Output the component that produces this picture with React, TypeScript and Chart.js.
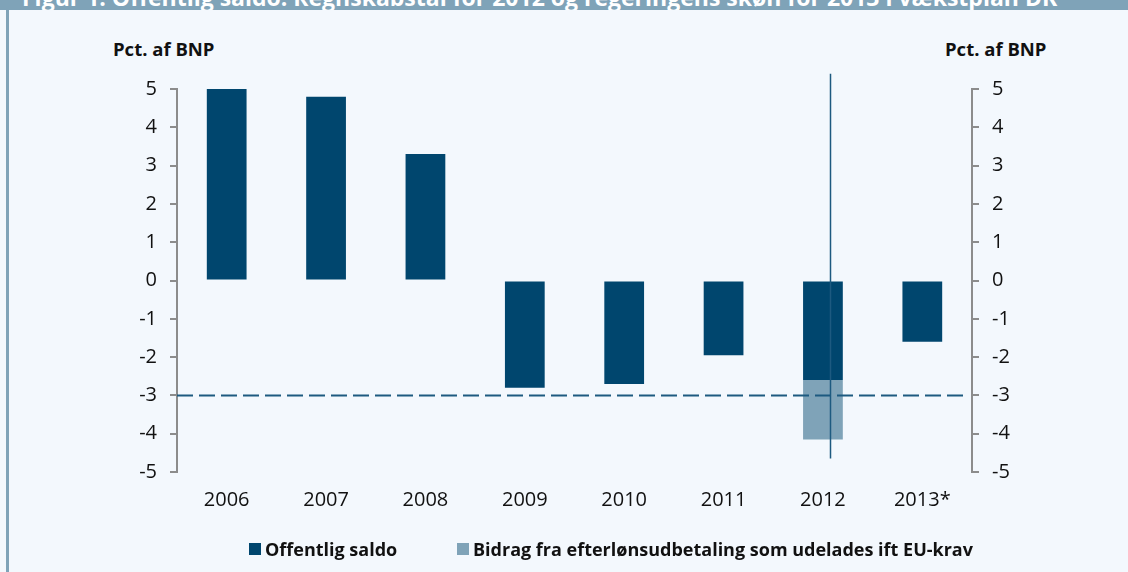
import React, { useEffect, useRef } from "react";
import { Chart, registerables } from "chart.js";
Chart.register(...registerables);

const categories = ["2006", "2007", "2008", "2009", "2010", "2011", "2012", "2013*"];
const saldo = [5.0, 4.8, 3.3, -2.8, -2.7, -1.95, -2.6, -1.6];
const bidrag = [null, null, null, null, null, null, -1.55, null];
const yMin = -5;
const yMax = 5;
const euLimit = -3;
const separatorTop = 5.4;
const separatorBottom = -4.65;

const seriesNames = ["Offentlig saldo", "Bidrag fra efterlønsudbetaling som udelades ift EU-krav"];
const colors = { dark: "#00466e", light: "#7fa3b8", line: "#1d5a80", axis: "#8c8c8c", bg: "#f3f8fd" };
const titleText = "Figur 1. Offentlig saldo: Regnskabstal for 2012 og regeringens skøn for 2013 i vækstplan DK";
const yTitle = "Pct. af BNP";
const FONT = "'Open Sans', sans-serif";

export default function App() {
  const ref = useRef<HTMLCanvasElement | null>(null);

  useEffect(() => {
    if (!ref.current) return;
    const overlay = {
      id: "overlay",
      afterDatasetsDraw(chart: any) {
        const { ctx, chartArea, scales } = chart;
        const y = scales.y;
        const x = scales.x;
        ctx.save();
        ctx.strokeStyle = colors.line;
        ctx.lineWidth = 2;
        ctx.setLineDash([16, 6]);
        const yl = Math.round(y.getPixelForValue(euLimit)) + 0.5;
        ctx.beginPath();
        ctx.moveTo(chartArea.left, yl);
        ctx.lineTo(chartArea.right - 6, yl);
        ctx.stroke();
        ctx.setLineDash([]);
        ctx.lineWidth = 1.5;
        const cw = x.getPixelForValue(1) - x.getPixelForValue(0);
        const xs = Math.round(x.getPixelForValue(6) + cw * 0.07) + 0.5;
        ctx.beginPath();
        ctx.moveTo(xs, y.getPixelForValue(separatorTop));
        ctx.lineTo(xs, y.getPixelForValue(separatorBottom));
        ctx.stroke();
        ctx.restore();
      },
    };

    const tickFont = { family: FONT, size: 20 };
    const yCommon = (position: "left" | "right") => ({
      type: "linear" as const,
      position,
      min: yMin,
      max: yMax,
      stacked: position === "left",
      afterFit(scale: any) {
        scale.width = 60;
      },
      border: { display: true, color: colors.axis, width: 2 },
      grid: {
        display: true,
        drawOnChartArea: false,
        drawTicks: true,
        tickLength: 7,
        color: colors.axis,
        lineWidth: 2,
      },
      ticks: {
        stepSize: 1,
        padding: 13,
        color: "#111",
        font: tickFont,
      },
    });

    const chart = new Chart(ref.current, {
      type: "bar",
      data: {
        labels: categories,
        datasets: [
          {
            label: seriesNames[0],
            data: saldo,
            backgroundColor: colors.dark,
            barPercentage: 0.8,
            categoryPercentage: 0.5,
          },
          {
            label: seriesNames[1],
            data: bidrag as any,
            backgroundColor: colors.light,
            barPercentage: 0.8,
            categoryPercentage: 0.5,
          },
        ],
      },
      options: {
        responsive: false,
        animation: false,
        layout: { padding: { left: 117, right: 96, top: 89, bottom: 50 } },
        plugins: { legend: { display: false }, tooltip: { enabled: false } },
        scales: {
          x: {
            stacked: true,
            afterFit(scale: any) {
              scale.height = 50;
            },
            border: { display: false },
            grid: { display: false, drawTicks: false },
            ticks: { padding: 16, color: "#111", font: tickFont, maxRotation: 0 },
          },
          y: yCommon("left"),
          y2: yCommon("right"),
        },
      },
      plugins: [overlay],
    });
    return () => chart.destroy();
  }, []);

  const legendItem = (color: string, text: string, left: number) => (
    <div
      style={{
        position: "absolute",
        left,
        top: 537,
        display: "flex",
        alignItems: "center",
        fontFamily: FONT,
        fontWeight: 700,
        fontSize: 18,
        color: "#111",
        whiteSpace: "nowrap",
      }}
    >
      <span style={{ display: "inline-block", width: 12, height: 12, background: color, marginRight: 4 }} />
      {text}
    </div>
  );

  const titleStyle = {
    position: "absolute" as const,
    top: 36,
    fontFamily: FONT,
    fontWeight: 700,
    fontSize: 18.5,
    color: "#111",
    whiteSpace: "nowrap" as const,
  };

  return (
    <div
      style={{
        position: "fixed",
        left: 0,
        top: 0,
        width: 1128,
        height: 572,
        background: colors.bg,
        overflow: "hidden",
      }}
    >
      <div
        style={{
          position: "absolute",
          left: 0,
          top: 0,
          width: 1128,
          height: 10,
          background: colors.light,
          overflow: "hidden",
        }}
      >
        <div
          style={{
            position: "absolute",
            left: 22,
            top: -15,
            color: "#fff",
            fontFamily: FONT,
            fontWeight: 700,
            fontSize: 23,
            whiteSpace: "nowrap",
            lineHeight: "24px",
          }}
        >
          {titleText}
        </div>
      </div>
      <div style={{ position: "absolute", left: 6, top: 10, width: 3, height: 562, background: colors.light }} />
      <div style={{ ...titleStyle, left: 113 }}>{yTitle}</div>
      <div style={{ ...titleStyle, left: 945 }}>{yTitle}</div>
      <canvas ref={ref} width={1128} height={572} style={{ position: "absolute", left: 0, top: 0 }} />
      {legendItem(colors.dark, seriesNames[0], 249)}
      {legendItem(colors.light, seriesNames[1], 457)}
    </div>
  );
}
